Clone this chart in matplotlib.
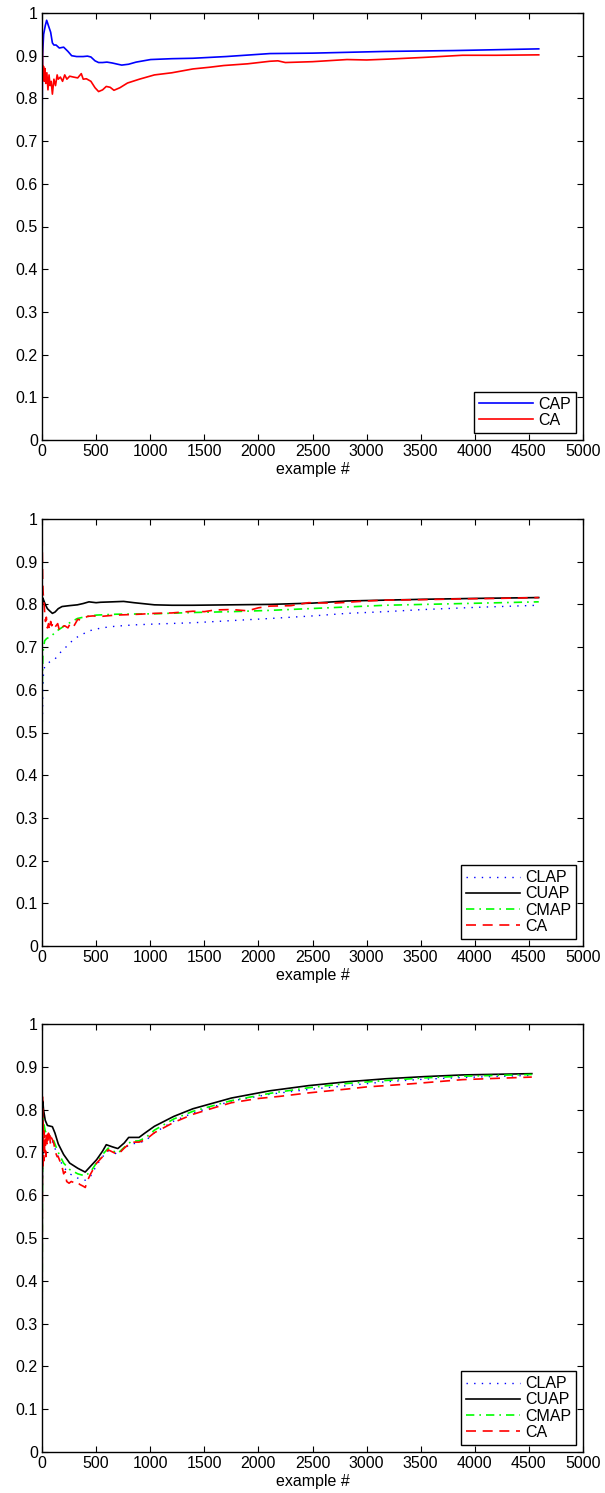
import matplotlib
matplotlib.use("Agg")
import matplotlib.pyplot as plt
import numpy as np

plt.rcParams['font.family'] = ['Liberation Sans', 'DejaVu Sans']

# ---------------- data ----------------
# panel 1
top_cap = [(0, 0.5), (1, 0.75), (5, 0.9), (15, 0.95), (30, 0.97), (43, 0.983), (60, 0.97),
           (80, 0.955), (96, 0.93), (110, 0.925), (130, 0.925), (160, 0.918), (200, 0.92),
           (240, 0.91), (274, 0.90), (320, 0.898), (380, 0.898), (420, 0.899), (452, 0.897),
           (490, 0.888), (523, 0.884), (560, 0.884), (600, 0.885), (648, 0.883), (700, 0.88),
           (737, 0.878), (800, 0.88), (870, 0.885), (1004, 0.891), (1200, 0.893), (1395, 0.894),
           (1700, 0.898), (2107, 0.905), (2500, 0.906), (3174, 0.910), (3800, 0.912), (4591, 0.916)]
top_ca = [(0, 1.0), (2, 0.95), (5, 0.88), (10, 0.86), (14, 0.875), (20, 0.84), (28, 0.87),
          (35, 0.835), (45, 0.86), (55, 0.82), (65, 0.855), (75, 0.83), (85, 0.84), (96, 0.81),
          (110, 0.845), (125, 0.83), (140, 0.855), (150, 0.845), (170, 0.85), (190, 0.84),
          (210, 0.855), (230, 0.845), (256, 0.852), (290, 0.85), (330, 0.848), (363, 0.858),
          (381, 0.845), (410, 0.846), (452, 0.84), (490, 0.825), (523, 0.816), (560, 0.82),
          (594, 0.828), (630, 0.826), (665, 0.819), (720, 0.825), (790, 0.836), (900, 0.845),
          (1039, 0.855), (1200, 0.860), (1395, 0.869), (1550, 0.873), (1680, 0.877),
          (1900, 0.881), (2107, 0.887), (2180, 0.888), (2249, 0.884), (2500, 0.886),
          (2819, 0.891), (3000, 0.890), (3200, 0.892), (3530, 0.896), (3886, 0.901),
          (4200, 0.901), (4591, 0.902)]

# panel 2
mid_clap = [(0, 0.40), (3, 0.52), (8, 0.60), (14, 0.64), (25, 0.655), (43, 0.66), (70, 0.665),
            (114, 0.67), (160, 0.685), (221, 0.70), (300, 0.72), (434, 0.738), (550, 0.745),
            (683, 0.749), (850, 0.752), (1039, 0.754), (1395, 0.757), (1750, 0.762),
            (2107, 0.767), (2500, 0.773), (2819, 0.779), (3174, 0.783), (3530, 0.788),
            (4000, 0.793), (4591, 0.798)]
mid_cuap = [(0, 0.70), (3, 0.80), (8, 0.815), (15, 0.81), (30, 0.80), (50, 0.79), (70, 0.785),
            (96, 0.779), (120, 0.782), (150, 0.79), (185, 0.795), (250, 0.797), (327, 0.799),
            (380, 0.802), (434, 0.806), (500, 0.804), (541, 0.805), (650, 0.806), (754, 0.807),
            (850, 0.804), (1039, 0.799), (1200, 0.798), (1395, 0.798), (1750, 0.799),
            (2107, 0.80), (2500, 0.803), (2819, 0.808), (3174, 0.81), (3530, 0.812),
            (4000, 0.814), (4591, 0.816)]
mid_cmap = [(0, 0.52), (3, 0.62), (8, 0.68), (14, 0.70), (25, 0.715), (43, 0.72), (80, 0.725),
            (150, 0.74), (220, 0.752), (327, 0.767), (400, 0.771), (505, 0.775), (683, 0.777),
            (1039, 0.778), (1395, 0.781), (1750, 0.783), (2107, 0.786), (2463, 0.79),
            (2819, 0.794), (3174, 0.798), (3530, 0.80), (3886, 0.802), (4591, 0.806)]
mid_ca = [(0, 1.0), (3, 0.92), (6, 0.86), (10, 0.83), (15, 0.81), (20, 0.80), (25, 0.78),
          (32, 0.76), (40, 0.77), (50, 0.745), (60, 0.755), (70, 0.74), (80, 0.76), (90, 0.75),
          (100, 0.755), (115, 0.745), (130, 0.75), (145, 0.755), (160, 0.74), (175, 0.75),
          (190, 0.748), (210, 0.75), (240, 0.745), (260, 0.755), (292, 0.748), (330, 0.765),
          (363, 0.763), (420, 0.772), (470, 0.773), (550, 0.772), (683, 0.775), (800, 0.776),
          (900, 0.777), (1039, 0.779), (1200, 0.78), (1395, 0.784), (1500, 0.783),
          (1600, 0.787), (1750, 0.788), (1900, 0.785), (2000, 0.792), (2107, 0.796),
          (2300, 0.797), (2463, 0.804), (2700, 0.803), (3000, 0.808), (3174, 0.81),
          (3500, 0.811), (3886, 0.813), (4200, 0.814), (4591, 0.816)]

# panel 3
bot_clap = [(0, 0.0), (3, 0.6), (8, 0.74), (14, 0.76), (30, 0.74), (50, 0.73), (96, 0.725),
            (150, 0.69), (200, 0.665), (256, 0.65), (330, 0.64), (399, 0.635), (450, 0.645),
            (505, 0.67), (560, 0.69), (612, 0.704), (660, 0.70), (701, 0.695), (760, 0.71),
            (826, 0.72), (897, 0.722), (960, 0.728), (1039, 0.746), (1217, 0.773),
            (1395, 0.792), (1750, 0.82), (2107, 0.836), (2463, 0.847), (2819, 0.856),
            (3174, 0.865), (3530, 0.871), (3886, 0.875), (4527, 0.880)]
bot_cuap = [(0, 0.0), (3, 0.6), (8, 0.82), (14, 0.80), (30, 0.775), (50, 0.763), (96, 0.76),
            (120, 0.745), (150, 0.72), (200, 0.695), (256, 0.675), (330, 0.663), (399, 0.654),
            (450, 0.668), (505, 0.683), (560, 0.703), (594, 0.718), (650, 0.713), (701, 0.709),
            (760, 0.722), (801, 0.735), (897, 0.735), (950, 0.745), (1039, 0.761),
            (1217, 0.784), (1395, 0.802), (1750, 0.827), (2107, 0.844), (2463, 0.856),
            (2819, 0.865), (3174, 0.872), (3530, 0.877), (3886, 0.881), (4527, 0.884)]
bot_cmap = [(0, 0.0), (3, 0.6), (8, 0.78), (14, 0.77), (30, 0.75), (50, 0.74), (96, 0.735),
            (150, 0.70), (200, 0.675), (256, 0.66), (330, 0.65), (399, 0.645), (450, 0.655),
            (505, 0.676), (560, 0.695), (612, 0.71), (660, 0.703), (701, 0.698), (760, 0.712),
            (826, 0.726), (897, 0.727), (960, 0.735), (1039, 0.752), (1217, 0.778),
            (1395, 0.796), (1750, 0.821), (2107, 0.838), (2463, 0.851), (2819, 0.861),
            (3174, 0.868), (3530, 0.874), (3886, 0.878), (4527, 0.882)]
bot_ca = [(0, 0.0), (2, 0.5), (4, 0.83), (6, 0.70), (8, 0.78), (10, 0.66), (13, 0.72),
          (16, 0.68), (20, 0.75), (25, 0.70), (30, 0.73), (35, 0.69), (40, 0.74), (45, 0.72),
          (50, 0.74), (55, 0.725), (60, 0.745), (65, 0.73), (70, 0.74), (78, 0.72), (85, 0.735),
          (96, 0.73), (110, 0.72), (125, 0.70), (140, 0.69), (150, 0.69), (165, 0.68),
          (185, 0.667), (200, 0.65), (215, 0.655), (228, 0.632), (250, 0.628), (270, 0.632),
          (290, 0.63), (310, 0.627), (327, 0.63), (350, 0.625), (381, 0.621), (400, 0.618),
          (416, 0.632), (450, 0.65), (505, 0.675), (560, 0.69), (612, 0.706), (660, 0.70),
          (701, 0.695), (760, 0.71), (826, 0.724), (897, 0.724), (960, 0.73), (1039, 0.746),
          (1217, 0.770), (1395, 0.789), (1600, 0.805), (1750, 0.816), (2000, 0.826),
          (2200, 0.831), (2463, 0.839), (2700, 0.845), (2819, 0.848), (3000, 0.853),
          (3174, 0.856), (3400, 0.86), (3886, 0.87), (4200, 0.873), (4527, 0.876)]

x_ticks = list(range(0, 5001, 500))
y_ticks = [0, 0.1, 0.2, 0.3, 0.4, 0.5, 0.6, 0.7, 0.8, 0.9, 1]
y_tick_labels = ['0', '0.1', '0.2', '0.3', '0.4', '0.5', '0.6', '0.7', '0.8', '0.9', '1']
x_label = 'example #'

# ---------------- figure ----------------
W, H = 605, 1493
fig = plt.figure(figsize=(W / 100, H / 100), dpi=100)

def ax_rect(top_px, bottom_px, left_px=42, right_px=583):
    return [left_px / W, (H - bottom_px) / H, (right_px - left_px) / W, (bottom_px - top_px) / H]

FS = 11.5

def style(ax):
    ax.set_xlim(0, 5000)
    ax.set_ylim(0, 1)
    ax.set_xticks(x_ticks)
    ax.set_xticklabels([str(t) for t in x_ticks], fontsize=FS)
    ax.set_yticks(y_ticks)
    ax.set_yticklabels(y_tick_labels, fontsize=FS)
    ax.tick_params(direction='in', length=4, width=0.8, top=True, right=True, pad=3)
    for s in ax.spines.values():
        s.set_linewidth(1.0)
    ax.set_xlabel(x_label, fontsize=FS, labelpad=2)

def xy(pairs):
    a = np.array(pairs, dtype=float)
    return a[:, 0], a[:, 1]

leg_kw = dict(loc='lower right', fontsize=FS, fancybox=False, edgecolor='black', framealpha=1,
              handlelength=3.4, handletextpad=0.3, labelspacing=0.08, borderpad=0.3,
              borderaxespad=0.45)

# panel 1
ax1 = fig.add_axes(ax_rect(13, 440))
ax1.plot(*xy(top_cap), color='#0000ff', lw=1.2, label='CAP')
ax1.plot(*xy(top_ca), color='#ff0000', lw=1.2, label='CA')
style(ax1)
l1 = ax1.legend(**leg_kw)
l1.get_frame().set_linewidth(1.0)

# panel 2
ax2 = fig.add_axes(ax_rect(519, 946))
ax2.plot(*xy(mid_clap), color='#0000ff', lw=1.0, dashes=(1, 4.5), label='CLAP')
ax2.plot(*xy(mid_cuap), color='black', lw=1.2, label='CUAP')
ax2.plot(*xy(mid_cmap), color='#00ff00', lw=1.2, dashes=(5, 3, 1, 3), label='CMAP')
ax2.plot(*xy(mid_ca), color='#ff0000', lw=1.2, dashes=(6, 4), label='CA')
style(ax2)
l2 = ax2.legend(**leg_kw)
l2.get_frame().set_linewidth(1.0)

# panel 3
ax3 = fig.add_axes(ax_rect(1024, 1452))
ax3.plot(*xy(bot_clap), color='#0000ff', lw=1.0, dashes=(1, 4.5), label='CLAP')
ax3.plot(*xy(bot_cuap), color='black', lw=1.2, label='CUAP')
ax3.plot(*xy(bot_cmap), color='#00ff00', lw=1.2, dashes=(5, 3, 1, 3), label='CMAP')
ax3.plot(*xy(bot_ca), color='#ff0000', lw=1.2, dashes=(6, 4), label='CA')
style(ax3)
l3 = ax3.legend(**leg_kw)
l3.get_frame().set_linewidth(1.0)

fig.savefig('out.png', dpi=100)
